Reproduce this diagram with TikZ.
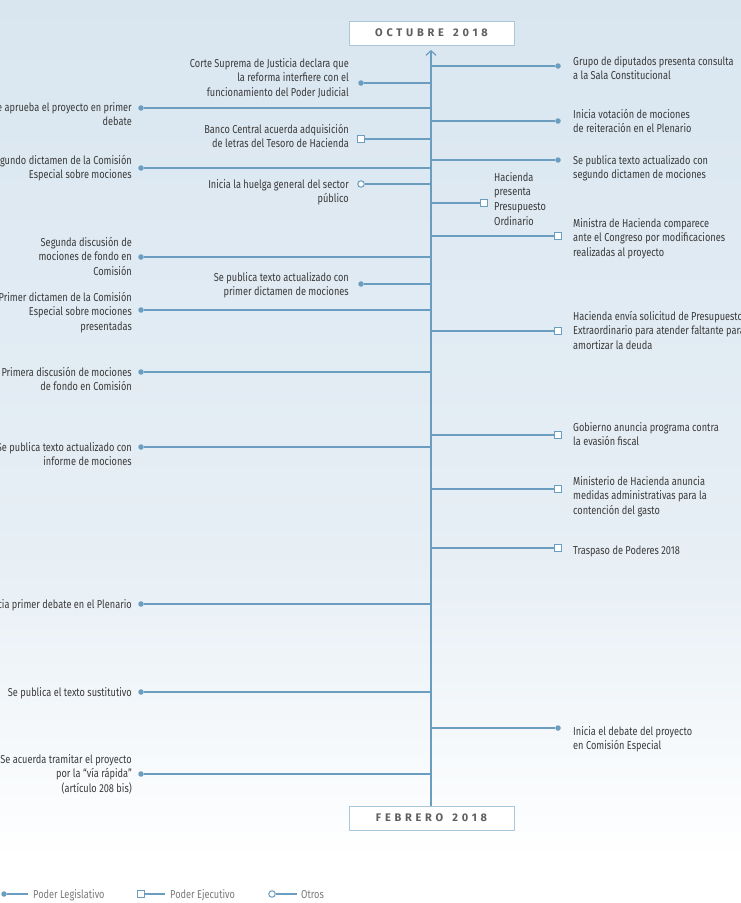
\documentclass[tikz,border=0pt]{standalone}
\usepackage{fontspec}
\setmainfont[FakeStretch=0.8]{Fira Sans}
\newfontfamily\datefont[LetterSpace=34]{Fira Sans}
\usetikzlibrary{arrows.meta}
\definecolor{lc}{HTML}{6A9DBF}
\definecolor{bgtop}{HTML}{D9E6F0}
\definecolor{bgmid}{HTML}{E7EFF5}
\definecolor{txt}{HTML}{3A3A3A}
\definecolor{leg}{HTML}{7A7A7A}
\definecolor{boxline}{HTML}{A9C7DA}
\definecolor{datetxt}{HTML}{5E5E5E}
\begin{document}
\begin{tikzpicture}[x=1pt,y=-1pt,
  branch/.style={draw=lc,line width=1.3pt},
  dotm/.style={circle,fill=lc,inner sep=0pt,minimum size=5.5pt},
  sqm/.style={rectangle,draw=lc,fill=white,line width=1pt,inner sep=0pt,minimum size=7pt},
  circm/.style={circle,draw=lc,fill=white,line width=1pt,inner sep=0pt,minimum size=6.5pt},
  lab/.style={font=\fontsize{11.5}{14.8}\selectfont,text=txt,inner sep=0pt},
  rlab/.style={lab,align=left,anchor=base west},
  llab/.style={lab,align=right,anchor=base east},
  datebox/.style={draw=boxline,fill=white,line width=1pt,minimum width=165pt,minimum height=24pt,inner sep=0pt,font=\datefont\bfseries\fontsize{11}{12}\selectfont,text=datetxt},
  legtxt/.style={font=\fontsize{11.5}{14}\selectfont,text=leg,anchor=base west,inner sep=0pt}
]
\useasboundingbox (0,0) rectangle (741,903);
\clip (0,0) rectangle (741,903);
\shade[top color=bgtop,bottom color=bgmid] (0,0) rectangle (741,560);
\shade[top color=bgmid,bottom color=white] (0,560) rectangle (741,860);
\fill[white] (0,859.5) rectangle (741,903);

% date boxes and spine
\node[datebox] (oct) at (431.5,33) {OCTUBRE\hspace{3pt} 2018};
\node[datebox] (feb) at (431.5,818) {FEBRERO\hspace{3pt} 2018};
\coordinate (top) at (431,50);
\coordinate (bot) at (431,806);
\draw[branch,-{Straight Barb[length=4.5pt,width=10pt,line width=1.2pt]}] (bot) -- (top);

% ---------- right side ----------
\node[dotm] (mR1) at (558,66) {};
\node[dotm] (mR2) at (558,121) {};
\node[dotm] (mR3) at (558,160) {};
\node[sqm]  (mR4) at (484,203) {};
\node[sqm]  (mR5) at (558,236) {};
\node[sqm]  (mR6) at (558,331) {};
\node[sqm]  (mR7) at (558,435) {};
\node[sqm]  (mR8) at (558,489) {};
\node[sqm]  (mR9) at (558,548) {};
\node[dotm] (mR10) at (558,728) {};
\foreach \n/\y in {R1/66,R2/121,R3/160,R4/203,R5/236,R6/331,R7/435,R8/489,R9/548,R10/728}{
  \coordinate (j\n) at (431,\y);
  \draw[branch] (j\n) -- (m\n);
}
% (multi-line nodes: base anchor = baseline of the last line)
\node[rlab] (tR1) at (573,79.8) {Grupo de diputados presenta consulta\\a la Sala Constitucional};
\node[rlab] (tR2) at (573,132.8) {Inicia votación de mociones\\de reiteración en el Plenario};
\node[rlab] (tR3) at (573,178.8) {Se publica texto actualizado con\\segundo dictamen de mociones};
\node[rlab] (tR4) at (494,225.4) {Hacienda\\presenta\\Presupuesto\\Ordinario};
\node[rlab] (tR5) at (573,256.6) {Ministra de Hacienda comparece\\ante el Congreso por modificaciones\\realizadas al proyecto};
\node[rlab] (tR6) at (573,349.6) {Hacienda envía solicitud de Presupuesto\\Extraordinario para atender faltante para\\amortizar la deuda};
\node[rlab] (tR7) at (573,445.8) {Gobierno anuncia programa contra\\la evasión fiscal};
\node[rlab] (tR8) at (573,514.6) {Ministerio de Hacienda anuncia\\medidas administrativas para la\\contención del gasto};
\node[rlab] (tR9) at (573,554) {Traspaso de Poderes 2018};
\node[rlab] (tR10) at (573,749.8) {Inicia el debate del proyecto\\en Comisión Especial};

% ---------- left long ----------
\foreach \n/\y in {L1/108,L2/168,L3/257,L4/310,L5/372,L6/447,L7/604,L8/692,L9/774}{
  \node[dotm] (m\n) at (141,\y) {};
  \coordinate (j\n) at (431,\y);
  \draw[branch] (j\n) -- (m\n);
}
\node[llab] (tL1) at (132,125.8) {Se aprueba el proyecto en primer\\debate};
\node[llab] (tL2) at (132,178.8) {Segundo dictamen de la Comisión\\Especial sobre mociones};
\node[llab] (tL3) at (132,275.6) {Segunda discusión de\\mociones de fondo en\\Comisión};
\node[llab] (tL4) at (132,330.6) {Primer dictamen de la Comisión\\Especial sobre mociones\\presentadas};
\node[llab] (tL5) at (132,390.8) {Primera discusión de mociones\\de fondo en Comisión};
\node[llab] (tL6) at (132,465.8) {Se publica texto actualizado con\\informe de mociones};
\node[llab] (tL7) at (132,608) {Inicia primer debate en el Plenario};
\node[llab] (tL8) at (132,696) {Se publica el texto sustitutivo};
\node[llab] (tL9) at (132,792.6) {Se acuerda tramitar el proyecto\\por la “vía rápida”\\(artículo 208 bis)};

% ---------- left short ----------
\node[dotm]  (mS1) at (361,83) {};
\node[sqm]   (mS2) at (361,139) {};
\node[circm] (mS3) at (361,184) {};
\node[dotm]  (mS4) at (361,284) {};
\foreach \n/\y in {S1/83,S2/139,S3/184,S4/284}{
  \coordinate (j\n) at (431,\y);
  \draw[branch] (j\n) -- (m\n);
}
\node[llab] (tS1) at (349,96.6) {Corte Suprema de Justicia declara que\\la reforma interfiere con el\\funcionamiento del Poder Judicial};
\node[llab] (tS2) at (349,147.8) {Banco Central acuerda adquisición\\de letras del Tesoro de Hacienda};
\node[llab] (tS3) at (349,202.8) {Inicia la huelga general del sector\\público};
\node[llab] (tS4) at (349,295.8) {Se publica texto actualizado con\\primer dictamen de mociones};

% ---------- legend ----------
\node[dotm]  (lg1) at (4,894) {};
\node[sqm]   (lg2) at (141,894) {};
\node[circm] (lg3) at (272,894) {};
\coordinate (le1) at (28,894);
\coordinate (le2) at (165,894);
\coordinate (le3) at (297,894);
\draw[branch] (lg1) -- (le1);
\draw[branch] (lg2) -- (le2);
\draw[branch] (lg3) -- (le3);
\node[legtxt] (lt1) at (33,898) {Poder Legislativo};
\node[legtxt] (lt2) at (170,898) {Poder Ejecutivo};
\node[legtxt] (lt3) at (301,898) {Otros};
\end{tikzpicture}
\end{document}
